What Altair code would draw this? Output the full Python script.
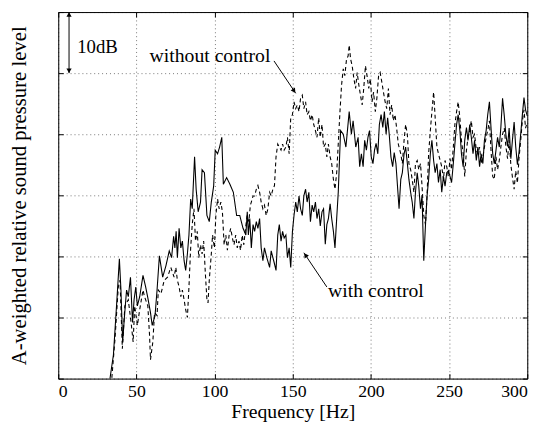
import altair as alt
import pandas as pd

# ---------------- data ----------------
with_f = [32.5, 33.2, 35.3, 37.4, 39.1, 40.1, 41.2, 42.2, 43.7, 44.8, 46.2, 47.5, 48.5, 49.6, 50.6, 52.1,
          54.2, 55.9, 57.3, 59.0, 60.1, 61.9, 63.2, 64.7, 66.8, 68.9, 71.0, 72.5, 73.8, 74.6, 75.4, 76.2,
          77.3, 78.4, 79.4, 80.5, 81.5, 82.6, 83.6, 84.7, 85.7, 87.2, 88.2, 89.5, 91.0, 92.0, 93.5, 95.1,
          96.6, 97.9, 99.4, 100.4, 101.9, 103.2, 104.6, 105.6, 107.7, 109.8, 112.0, 114.1, 116.1, 118.2,
          120.0, 120.9, 121.6, 122.5, 123.5, 124.6, 125.6, 126.7, 127.7, 128.8, 129.8, 130.9, 131.9, 133.4,
          135.2, 136.2, 137.3, 138.3, 139.3, 140.4, 141.4, 142.5, 143.5, 144.5, 145.6, 146.6, 147.7, 148.7,
          149.8, 150.8, 151.9, 152.9, 154.0, 155.0, 156.1, 157.1, 158.2, 159.2, 160.3, 161.3, 162.4, 163.4,
          164.5, 165.5, 166.6, 167.6, 168.7, 169.7, 170.8, 171.8, 172.8, 173.9, 174.9, 176.0, 177.0, 178.1,
          179.1, 180.6, 182.3, 184.0, 186.1, 187.5, 188.6, 190.3, 191.8, 192.8, 193.9, 195.0, 196.0, 197.1,
          198.1, 199.1, 200.2, 201.3, 202.3, 203.3, 204.4, 205.4, 206.5, 207.6, 208.6, 209.7, 210.7, 211.7,
          212.8, 213.9, 214.9, 216.0, 217.0, 218.0, 219.1, 220.1, 221.2, 222.2, 223.3, 224.3, 225.4, 226.4,
          227.5, 228.5, 229.6, 230.6, 231.7, 232.7, 233.4, 233.8, 234.9, 235.9, 236.9, 238.0, 239.0, 240.1,
          241.1, 242.2, 243.2, 244.3, 245.3, 246.4, 247.4, 248.5, 249.5, 250.6, 251.6, 252.7, 253.7, 254.8,
          255.8, 256.9, 257.9, 259.0, 260.0, 261.1, 262.1, 263.2, 264.2, 265.3, 266.3, 267.4, 268.4, 269.5,
          270.5, 271.6, 272.6, 273.7, 274.7, 275.8, 276.8, 277.9, 278.9, 280.0, 281.0, 282.1, 283.1, 284.2,
          285.3, 286.3, 287.4, 288.4, 289.5, 290.5, 291.6, 292.6, 293.7, 294.7, 295.8, 296.8, 297.9, 298.9,
          300.0]
with_db = [-1.0, 0.2, 3.9, 12.4, 19.6, 14.5, 6.0, 9.7, 14.5, 13.4, 16.6, 9.2, 12.9, 15.0, 11.9, 13.4,
           16.9, 15.0, 13.2, 10.8, 8.7, 10.3, 14.5, 20.1, 16.6, 18.5, 20.9, 19.8, 23.3, 21.4, 24.1, 19.8,
           24.6, 21.4, 22.5, 19.3, 17.7, 20.4, 23.5, 29.4, 27.8, 36.3, 31.0, 27.3, 28.9, 34.2, 33.7, 26.7,
           25.7, 28.9, 31.5, 37.4, 36.8, 37.9, 39.5, 31.8, 32.9, 31.8, 30.5, 26.7, 26.7, 24.6,
           23.5, 27.3, 23.5, 26.2, 21.4, 25.2, 24.1, 25.7, 24.6, 26.2, 21.4, 19.3, 21.4, 19.8,
           18.2, 20.9, 19.8, 18.8, 17.7, 23.5, 25.2, 22.5, 24.1, 23.0, 23.5, 19.8, 21.4, 18.2,
           24.1, 26.7, 28.9, 27.3, 29.9, 27.8, 26.7, 29.9, 31.0, 28.9, 30.5, 25.7, 28.4, 27.3,
           28.9, 26.2, 27.8, 25.0, 27.3, 27.8, 22.0, 25.2, 26.2, 28.6, 26.2, 24.1, 21.4, 26.2,
           30.5, 40.6, 40.0, 37.9, 43.7, 40.0, 42.2, 37.9, 39.5, 34.7, 36.8, 34.7, 39.0, 37.4,
           39.5, 40.6, 36.3, 35.2, 37.4, 38.5, 36.8, 41.6, 43.2, 41.1, 43.7, 40.0, 42.7, 40.0,
           36.3, 34.7, 37.0, 35.2, 31.5, 27.8, 32.6, 33.7, 36.8, 37.9, 35.2, 32.6, 30.5, 28.9,
           26.2, 30.5, 33.7, 31.5, 27.8, 30.0, 23.0, 19.3, 25.2, 29.9, 32.6, 36.8, 39.0, 35.7,
           33.7, 35.2, 32.1, 34.2, 30.5, 33.1, 31.5, 33.7, 34.0, 33.1, 32.1, 35.2, 38.4, 41.6,
           43.2, 40.6, 36.8, 34.7, 39.0, 41.1, 39.0, 41.6, 39.5, 36.8, 39.0, 35.7, 37.9, 34.7,
           36.8, 35.2, 39.0, 40.6, 43.2, 45.3, 41.1, 36.8, 35.2, 37.4, 39.5, 37.9, 41.1, 45.9,
           43.0, 40.0, 38.0, 41.0, 36.0, 39.0, 42.0, 38.0, 35.0, 37.0, 40.0, 43.0, 46.0, 44.0,
           43.0]

without_f = [33.5, 34.3, 36.3, 38.4, 39.5, 41.0, 42.6, 44.8, 46.8, 47.9, 48.9, 50.6, 52.1, 54.2, 55.2, 57.3,
             58.4, 59.0, 60.5, 61.6, 63.2, 64.0, 65.7, 67.8, 69.9, 72.0, 74.1, 75.2, 76.2, 77.3, 78.4, 79.4,
             80.5, 81.5, 82.6, 83.6, 84.7, 85.7, 86.8, 87.8, 88.9, 89.9, 91.0, 92.0, 93.0, 94.1, 95.1, 95.8,
             96.6, 97.9, 98.7, 99.9, 100.8, 101.9, 102.9, 104.0, 105.0, 106.1, 107.2, 108.2, 109.3, 110.3,
             111.4, 112.4, 113.5, 114.5, 115.6, 116.6, 117.7, 118.7, 119.8, 120.8, 121.9, 122.9, 123.5, 124.6,
             125.6, 126.7, 127.7, 128.8, 129.8, 130.9, 131.9, 133.0, 134.1, 135.2, 136.2, 137.3, 138.3, 139.3,
             140.4, 141.4, 142.5, 143.5, 144.5, 145.6, 146.6, 147.7, 148.7, 149.8, 150.8, 151.9, 152.9, 154.0,
             155.0, 156.1, 157.1, 158.2, 159.2, 160.3, 161.3, 162.4, 163.4, 164.5, 165.5, 166.6, 167.6, 168.7,
             169.7, 170.8, 171.8, 172.8, 173.9, 174.9, 176.0, 177.0, 178.1, 179.1, 180.2, 181.2, 182.3, 183.3,
             184.4, 185.4, 186.1, 187.0, 188.0, 189.1, 190.2, 191.2, 192.3, 193.3, 194.4, 195.4, 196.5, 197.5,
             198.6, 199.6, 200.7, 201.7, 202.8, 203.8, 204.9, 205.9, 207.0, 208.0, 209.1, 210.1, 211.2, 212.2,
             213.3, 214.3, 215.4, 216.4, 217.5, 218.0, 219.1, 220.1, 221.2, 222.2, 223.3, 224.3, 225.4, 226.4,
             227.5, 228.5, 229.6, 230.6, 231.7, 232.7, 233.8, 234.9, 235.9, 236.9, 238.0, 239.0, 240.1, 241.1,
             242.2, 243.2, 244.3, 245.3, 246.4, 247.4, 248.5, 249.5, 250.6, 251.6, 252.7, 253.7, 254.8, 255.8,
             256.9, 257.9, 259.0, 260.0, 261.1, 262.1, 263.2, 264.2, 265.3, 266.3, 267.4, 268.4, 269.5, 270.5,
             271.6, 272.6, 273.7, 274.7, 275.8, 276.8, 277.9, 278.9, 280.0, 281.0, 282.1, 283.1, 284.2, 285.3,
             286.3, 287.4, 288.4, 289.5, 290.5, 291.6, 292.6, 293.7, 294.7, 295.8, 296.8, 297.9, 298.9, 300.0]
without_db = [-1.0, 0.2, 6.5, 15.0, 16.1, 4.9, 11.9, 12.9, 8.7, 6.0, 11.9, 8.7, 11.3, 14.5, 13.4, 11.9,
              7.1, 3.1, 6.0, 10.8, 10.3, 14.5, 13.9, 16.1, 16.6, 18.2, 16.6, 18.2, 16.1, 15.0, 13.4, 14.5,
              12.9, 11.3, 10.0, 15.0, 21.4, 25.2, 27.8, 22.5, 24.1, 19.8, 21.9, 20.4, 22.5, 17.2, 12.9, 12.4,
              16.1, 20.4, 23.5, 21.4, 26.7, 29.4, 27.8, 28.9, 27.3, 21.9, 23.5, 21.0, 23.5, 24.6,
              23.0, 21.9, 23.5, 21.4, 22.5, 21.0, 23.5, 21.9, 24.6, 26.7, 25.7, 28.4, 28.9, 29.9,
              29.9, 31.0, 31.6, 30.5, 28.9, 27.8, 28.4, 26.7, 27.8, 30.5, 29.9, 31.0, 31.6, 36.3,
              38.4, 37.9, 37.4, 38.4, 37.4, 37.9, 39.5, 36.8, 42.7, 43.2, 45.3, 44.2, 44.8, 43.7,
              45.9, 46.4, 44.2, 45.3, 43.2, 43.7, 42.2, 43.2, 41.6, 40.6, 39.5, 42.7, 39.5, 41.6,
              37.9, 38.4, 36.3, 38.4, 36.3, 35.2, 32.6, 31.0, 33.7, 38.4, 43.7, 48.0, 50.7, 49.6,
              52.3, 52.8, 54.6, 52.3, 51.2, 49.1, 47.5, 50.1, 48.0, 46.4, 44.8, 47.5, 51.2, 49.6,
              47.5, 49.1, 45.3, 46.9, 43.7, 45.9, 49.6, 50.1, 48.5, 46.9, 45.3, 44.2, 47.5, 43.2,
              44.8, 42.2, 43.2, 41.1, 38.4, 37.9, 36.8, 35.2, 39.0, 41.6, 40.0, 35.2, 34.2, 32.6,
              30.5, 35.2, 35.7, 34.2, 35.2, 31.5, 26.7, 25.2, 30.0, 36.8, 40.6, 43.7, 46.9, 42.7,
              37.9, 36.8, 35.7, 34.7, 32.6, 35.7, 34.7, 33.1, 36.0, 34.2, 37.9, 41.6, 43.7, 45.3,
              42.7, 39.0, 36.8, 33.1, 37.4, 39.5, 40.6, 42.2, 39.5, 40.0, 37.4, 36.8, 37.9, 35.2,
              36.3, 37.9, 39.5, 40.6, 42.2, 37.4, 33.1, 32.6, 36.3, 34.2, 35.7, 37.9, 40.0, 41.0,
              38.0, 36.0, 39.0, 35.0, 33.0, 31.0, 34.0, 32.0, 36.0, 39.0, 42.0, 44.0, 41.0, 42.0]

x_ticks = [0, 50, 100, 150, 200, 250, 300]
y_ticks = [0, 10, 20, 30, 40, 50, 60]

# annotations (data coordinates)
scale_label = ["10dB"]
scale_f = [12.1]
scale_db = [53.3]

ann_label = ["without control", "with control"]
ann_f = [58.4, 172.6]
ann_db = [51.8, 13.3]

arrow_f = [6.9, 138.0, 171.8]
arrow_db = [50.0, 52.0, 15.0]
arrow_f2 = [6.9, 151.9, 157.1]
arrow_db2 = [60.0, 46.7, 20.6]

head_f = [6.9, 6.9, 150.85, 158.15]
head_db = [59.6, 50.4, 47.1, 20.2]
head_angle = [0, 180, 146, 326]

# ---------------- chart ----------------
FONT = "Liberation Serif"
xs = alt.Scale(domain=[0, 300], nice=False, zero=False)
ys = alt.Scale(domain=[0, 60], nice=False, zero=False)

df_with = pd.DataFrame({"f": with_f, "db": with_db})
df_without = pd.DataFrame({"f": without_f, "db": without_db})
df_scale = pd.DataFrame({"f": scale_f, "db": scale_db, "label": scale_label})
df_ann = pd.DataFrame({"f": ann_f, "db": ann_db, "label": ann_label})
df_arrow = pd.DataFrame({"f": arrow_f, "db": arrow_db, "f2": arrow_f2, "db2": arrow_db2})
df_head = pd.DataFrame({"f": head_f, "db": head_db, "angle": head_angle})

main_x_axis = alt.Axis(values=x_ticks, grid=True, gridDash=[1, 3], gridColor="#777", gridWidth=1,
                       ticks=False, domain=True, domainColor="black", domainWidth=1,
                       labelFont=FONT, labelFontSize=18, labelColor="black",
                       labelPadding=4, title="Frequency [Hz]", titleFont=FONT, titleFontSize=20,
                       titleFontWeight="normal", titleColor="black", titlePadding=1)
main_y_axis = alt.Axis(values=y_ticks, grid=True, gridDash=[1, 3], gridColor="#777", gridWidth=1,
                       ticks=False, domain=True, domainColor="black", domainWidth=1, labels=False,
                       title="A-weighted relative sound pressure level", titleFont=FONT, titleFontSize=21,
                       titleFontWeight="normal", titleColor="black", titlePadding=29)


def tick_axis(orient, values):
    return alt.Axis(orient=orient, values=values, offset=-5, tickSize=5, tickColor="black", tickWidth=1,
                    labels=False, grid=False, domain=False, title=None)


def frame_axis(orient):
    return alt.Axis(orient=orient, offset=0, ticks=False, labels=False, grid=False, domain=True,
                    domainColor="black", domainWidth=1, title=None)


solid = alt.Chart(df_with).mark_line(color="black", strokeWidth=1.1, clip=True).encode(
    x=alt.X("f:Q", scale=xs, axis=main_x_axis),
    y=alt.Y("db:Q", scale=ys, axis=main_y_axis),
    order="f:Q",
)

dashed = alt.Chart(df_without).mark_line(color="black", strokeWidth=1.1, strokeDash=[4, 3], clip=True).encode(
    x=alt.X("f:Q", scale=xs, axis=tick_axis("top", x_ticks)),
    y=alt.Y("db:Q", scale=ys, axis=tick_axis("right", y_ticks)),
    order="f:Q",
)

scale_text = alt.Chart(df_scale).mark_text(font=FONT, fontSize=19, align="left", baseline="alphabetic",
                                           color="black").encode(
    x=alt.X("f:Q", scale=xs, axis=tick_axis("bottom", x_ticks)),
    y=alt.Y("db:Q", scale=ys, axis=tick_axis("left", y_ticks)),
    text="label:N",
)

text = alt.Chart(df_ann).mark_text(font=FONT, fontSize=20, align="left", baseline="alphabetic",
                                   color="black").encode(
    x=alt.X("f:Q", scale=xs, axis=frame_axis("top")),
    y=alt.Y("db:Q", scale=ys, axis=frame_axis("right")),
    text="label:N",
)

arrows = alt.Chart(df_arrow).mark_rule(color="black", strokeWidth=1).encode(
    x=alt.X("f:Q", scale=xs, axis=None), y=alt.Y("db:Q", scale=ys, axis=None), x2="f2:Q", y2="db2:Q",
)

heads = alt.Chart(df_head).mark_point(shape="triangle-up", filled=True, color="black", size=28,
                                      opacity=1).encode(
    x=alt.X("f:Q", scale=xs, axis=None), y=alt.Y("db:Q", scale=ys, axis=None),
    angle=alt.Angle("angle:Q", scale=None),
)

chart = alt.layer(solid, dashed, scale_text, text, arrows, heads).resolve_axis(
    x="independent", y="independent"
).properties(
    width=476, height=372,
    autosize=alt.AutoSizeParams(type="none"),
    padding={"left": 51, "top": 1, "right": 18, "bottom": 46},
).configure_view(stroke="black", strokeWidth=1).configure(background="white")

chart.save("out.html", embed_options={"renderer": "svg", "actions": False})
